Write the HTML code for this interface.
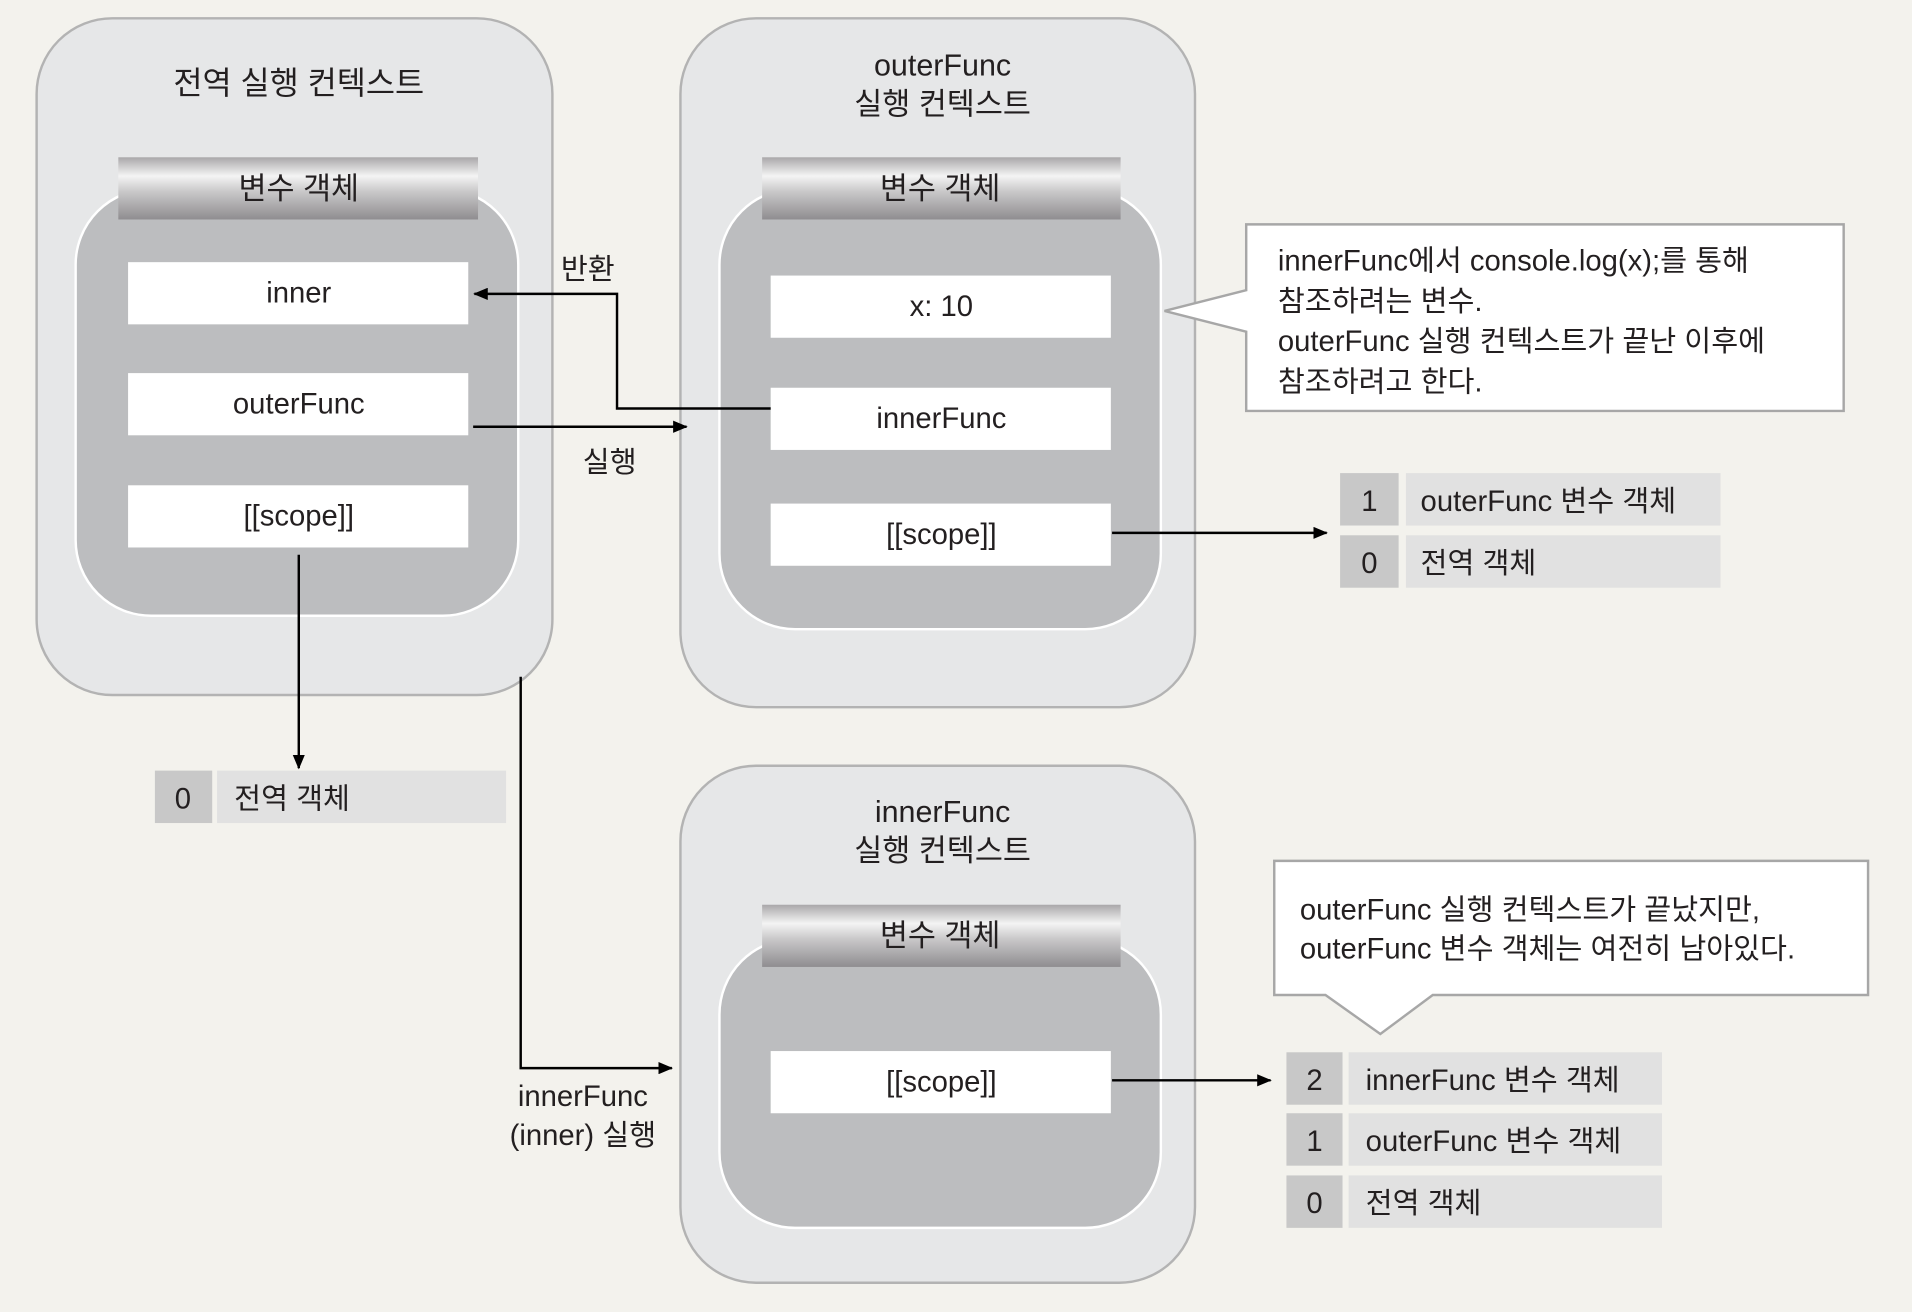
<!DOCTYPE html>
<html><head><meta charset="utf-8"><style>
html,body{margin:0;padding:0;background:#f3f2ed;}
svg{display:block}
text{font-family:"Liberation Sans","Noto Sans CJK KR",sans-serif;fill:#231f20;}
</style></head><body>
<svg width="1912" height="1312" viewBox="0 0 1568 1076" xmlns="http://www.w3.org/2000/svg">
<defs>
<linearGradient id="hg" x1="0" y1="0" x2="0" y2="1">
<stop offset="0" stop-color="#a9a7a9"/><stop offset="0.3" stop-color="#f4f4f4"/><stop offset="0.55" stop-color="#c9c8c9"/><stop offset="1" stop-color="#8f8d90"/>
</linearGradient>
<marker id="ar" markerWidth="12" markerHeight="10" refX="11" refY="5" orient="auto" markerUnits="userSpaceOnUse"><path d="M0,0 L12,5 L0,10 Z" fill="#000"/></marker>
</defs>
<rect width="1568" height="1076" fill="#f3f2ed"/>

<!-- Global context -->
<rect x="30" y="15" width="423" height="555" rx="62" fill="#e6e7e8" stroke="#b3b3b3" stroke-width="2"/>
<text x="245" y="77" font-size="26" text-anchor="middle">전역 실행 컨텍스트</text>
<rect x="62" y="155" width="363" height="350" rx="62" fill="#bcbdbf" stroke="#fff" stroke-width="2"/>
<rect x="97" y="129" width="295" height="51" fill="url(#hg)"/>
<text x="245" y="163" font-size="25" text-anchor="middle">변수 객체</text>
<rect x="105" y="215" width="279" height="51" fill="#fff"/>
<text x="245" y="248" font-size="24" text-anchor="middle">inner</text>
<rect x="105" y="306" width="279" height="51" fill="#fff"/>
<text x="245" y="339" font-size="24" text-anchor="middle">outerFunc</text>
<rect x="105" y="398" width="279" height="51" fill="#fff"/>
<text x="245" y="431" font-size="24" text-anchor="middle">[[scope]]</text>
<line x1="245" y1="455" x2="245" y2="630" stroke="#000" stroke-width="2" marker-end="url(#ar)"/>
<rect x="127" y="632" width="47" height="43" fill="#c8c8c8"/>
<text x="150" y="663" font-size="24" text-anchor="middle">0</text>
<rect x="178" y="632" width="237" height="43" fill="#e1e1e1"/>
<text x="192" y="663" font-size="24">전역 객체</text>

<!-- outerFunc context -->
<rect x="558" y="15" width="422" height="565" rx="62" fill="#e6e7e8" stroke="#b3b3b3" stroke-width="2"/>
<text x="773" y="62" font-size="25" text-anchor="middle">outerFunc</text>
<text x="773" y="94" font-size="25" text-anchor="middle">실행 컨텍스트</text>
<rect x="590" y="155" width="362" height="361" rx="62" fill="#bcbdbf" stroke="#fff" stroke-width="2"/>
<rect x="625" y="129" width="294" height="51" fill="url(#hg)"/>
<text x="771" y="163" font-size="25" text-anchor="middle">변수 객체</text>
<rect x="632" y="226" width="279" height="51" fill="#fff"/>
<text x="772" y="259" font-size="24" text-anchor="middle">x: 10</text>
<rect x="632" y="318" width="279" height="51" fill="#fff"/>
<text x="772" y="351" font-size="24" text-anchor="middle">innerFunc</text>
<rect x="632" y="413" width="279" height="51" fill="#fff"/>
<text x="772" y="446" font-size="24" text-anchor="middle">[[scope]]</text>

<polyline points="632,335 506,335 506,241 389,241" fill="none" stroke="#000" stroke-width="2" marker-end="url(#ar)"/>
<text x="482" y="229" font-size="24" text-anchor="middle">반환</text>
<line x1="388" y1="350" x2="563" y2="350" stroke="#000" stroke-width="2" marker-end="url(#ar)"/>
<text x="500" y="387" font-size="24" text-anchor="middle">실행</text>

<line x1="912" y1="437" x2="1088" y2="437" stroke="#000" stroke-width="2" marker-end="url(#ar)"/>
<rect x="1099" y="388" width="48" height="43" fill="#c8c8c8"/>
<text x="1123" y="419" font-size="24" text-anchor="middle">1</text>
<rect x="1153" y="388" width="258" height="43" fill="#e1e1e1"/>
<text x="1165" y="419" font-size="24">outerFunc 변수 객체</text>
<rect x="1099" y="439" width="48" height="43" fill="#c8c8c8"/>
<text x="1123" y="470" font-size="24" text-anchor="middle">0</text>
<rect x="1153" y="439" width="258" height="43" fill="#e1e1e1"/>
<text x="1165" y="470" font-size="24">전역 객체</text>

<!-- callout 1 -->
<path d="M1022,184 L1512,184 L1512,337 L1022,337 L1022,272 L955,255 L1022,238 Z" fill="#fff" stroke="#a7a7a7" stroke-width="2"/>
<text x="1048" y="222" font-size="24">innerFunc에서 console.log(x);를 통해</text>
<text x="1048" y="255" font-size="24">참조하려는 변수.</text>
<text x="1048" y="288" font-size="24">outerFunc 실행 컨텍스트가 끝난 이후에</text>
<text x="1048" y="321" font-size="24">참조하려고 한다.</text>

<!-- innerFunc context -->
<rect x="558" y="628" width="422" height="424" rx="62" fill="#e6e7e8" stroke="#b3b3b3" stroke-width="2"/>
<text x="773" y="674" font-size="25" text-anchor="middle">innerFunc</text>
<text x="773" y="706" font-size="25" text-anchor="middle">실행 컨텍스트</text>
<rect x="590" y="770" width="362" height="237" rx="62" fill="#bcbdbf" stroke="#fff" stroke-width="2"/>
<rect x="625" y="742" width="294" height="51" fill="url(#hg)"/>
<text x="771" y="776" font-size="25" text-anchor="middle">변수 객체</text>
<rect x="632" y="862" width="279" height="51" fill="#fff"/>
<text x="772" y="895" font-size="24" text-anchor="middle">[[scope]]</text>

<polyline points="427,555 427,876 551,876" fill="none" stroke="#000" stroke-width="2" marker-end="url(#ar)"/>
<text x="478" y="907" font-size="24" text-anchor="middle">innerFunc</text>
<text x="478" y="939" font-size="24" text-anchor="middle">(inner) 실행</text>

<line x1="912" y1="886" x2="1042" y2="886" stroke="#000" stroke-width="2" marker-end="url(#ar)"/>
<rect x="1055" y="863" width="46" height="43" fill="#c8c8c8"/>
<text x="1078" y="894" font-size="24" text-anchor="middle">2</text>
<rect x="1106" y="863" width="257" height="43" fill="#e1e1e1"/>
<text x="1120" y="894" font-size="24">innerFunc 변수 객체</text>
<rect x="1055" y="913" width="46" height="43" fill="#c8c8c8"/>
<text x="1078" y="944" font-size="24" text-anchor="middle">1</text>
<rect x="1106" y="913" width="257" height="43" fill="#e1e1e1"/>
<text x="1120" y="944" font-size="24">outerFunc 변수 객체</text>
<rect x="1055" y="964" width="46" height="43" fill="#c8c8c8"/>
<text x="1078" y="995" font-size="24" text-anchor="middle">0</text>
<rect x="1106" y="964" width="257" height="43" fill="#e1e1e1"/>
<text x="1120" y="995" font-size="24">전역 객체</text>

<!-- callout 2 -->
<path d="M1045,706 L1532,706 L1532,816 L1175,816 L1132,848 L1087,816 L1045,816 Z" fill="#fff" stroke="#a7a7a7" stroke-width="2"/>
<text x="1066" y="754" font-size="24">outerFunc 실행 컨텍스트가 끝났지만,</text>
<text x="1066" y="786" font-size="24">outerFunc 변수 객체는 여전히 남아있다.</text>
</svg>
</body></html>
